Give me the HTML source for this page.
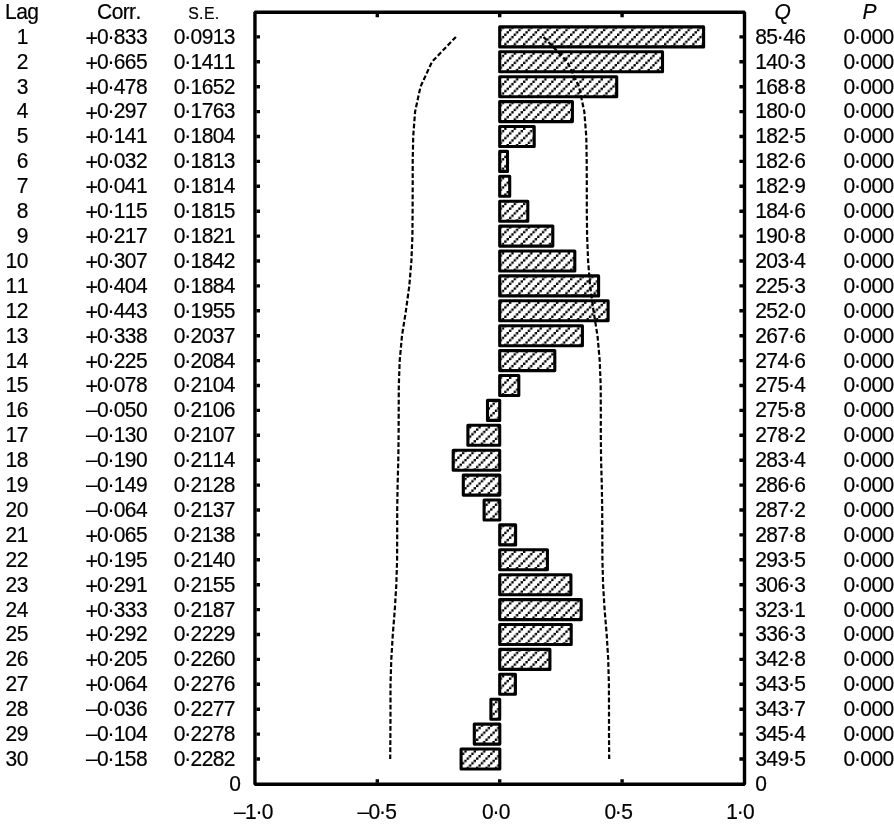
<!DOCTYPE html>
<html lang="en"><head><meta charset="utf-8"><title>Autocorrelation function</title>
<style>html,body{margin:0;padding:0;background:#fff}body{width:894px;height:824px;overflow:hidden}svg{display:block}text{font-kerning:none;letter-spacing:-.6px;font-family:"Liberation Sans",Arial,Helvetica,sans-serif;font-size:21px;fill:#000;stroke:#000;stroke-width:.2px}.i{font-style:italic}.sc{font-size:15.8px;letter-spacing:.4px}</style></head><body>
<svg width="894" height="824" viewBox="0 0 894 824">
<defs><pattern id="h" patternUnits="userSpaceOnUse" x="1.325" y="3.025" width="9.4" height="9.4">
<rect x="0" y="7.05" width="2.35" height="2.35"/>
<rect x="2.35" y="4.7" width="2.35" height="2.35"/>
<rect x="4.7" y="2.35" width="2.35" height="2.35"/>
<rect x="7.05" y="0" width="2.35" height="2.35"/>
</pattern></defs>
<rect width="894" height="824" fill="#fff"/>
<g transform="scale(1 1.08)">
<text x="5.1" y="17.5">Lag</text>
<text x="97.1" y="17.5">Corr.</text>
<text x="188.2" y="17.5" class="sc">S.E.</text>
<text x="774.4" y="17.5" class="i">Q</text>
<text x="862.6" y="17.5" class="i">P</text>
<g><text x="16.7" y="40.6">1</text><text><tspan x="85.5" y="42.4" font-size="21.4">+</tspan><tspan x="97.0" y="40.6" dx="0 -.6 -.1">0·833</tspan></text><text x="173.8" y="40.6" dx="0 -.6 -.1">0·0913</text><text x="755.3" y="40.6" dx="0 0 -.6 -.1">85·46</text><text x="843.6" y="40.6" dx="0 -.6 -.1">0·000</text></g>
<g><text x="16.7" y="63.6">2</text><text><tspan x="85.5" y="65.5" font-size="21.4">+</tspan><tspan x="97.0" y="63.6" dx="0 -.6 -.1">0·665</tspan></text><text x="173.8" y="63.6" dx="0 -.6 -.1">0·1411</text><text x="755.3" y="63.6" dx="0 0 0 -.6 -.1">140·3</text><text x="843.6" y="63.6" dx="0 -.6 -.1">0·000</text></g>
<g><text x="16.7" y="86.7">3</text><text><tspan x="85.5" y="88.5" font-size="21.4">+</tspan><tspan x="97.0" y="86.7" dx="0 -.6 -.1">0·478</tspan></text><text x="173.8" y="86.7" dx="0 -.6 -.1">0·1652</text><text x="755.3" y="86.7" dx="0 0 0 -.6 -.1">168·8</text><text x="843.6" y="86.7" dx="0 -.6 -.1">0·000</text></g>
<g><text x="16.7" y="109.7">4</text><text><tspan x="85.5" y="111.6" font-size="21.4">+</tspan><tspan x="97.0" y="109.7" dx="0 -.6 -.1">0·297</tspan></text><text x="173.8" y="109.7" dx="0 -.6 -.1">0·1763</text><text x="755.3" y="109.7" dx="0 0 0 -.6 -.1">180·0</text><text x="843.6" y="109.7" dx="0 -.6 -.1">0·000</text></g>
<g><text x="16.7" y="132.8">5</text><text><tspan x="85.5" y="134.6" font-size="21.4">+</tspan><tspan x="97.0" y="132.8" dx="0 -.6 -.1">0·141</tspan></text><text x="173.8" y="132.8" dx="0 -.6 -.1">0·1804</text><text x="755.3" y="132.8" dx="0 0 0 -.6 -.1">182·5</text><text x="843.6" y="132.8" dx="0 -.6 -.1">0·000</text></g>
<g><text x="16.7" y="155.8">6</text><text><tspan x="85.5" y="157.7" font-size="21.4">+</tspan><tspan x="97.0" y="155.8" dx="0 -.6 -.1">0·032</tspan></text><text x="173.8" y="155.8" dx="0 -.6 -.1">0·1813</text><text x="755.3" y="155.8" dx="0 0 0 -.6 -.1">182·6</text><text x="843.6" y="155.8" dx="0 -.6 -.1">0·000</text></g>
<g><text x="16.7" y="178.9">7</text><text><tspan x="85.5" y="180.8" font-size="21.4">+</tspan><tspan x="97.0" y="178.9" dx="0 -.6 -.1">0·041</tspan></text><text x="173.8" y="178.9" dx="0 -.6 -.1">0·1814</text><text x="755.3" y="178.9" dx="0 0 0 -.6 -.1">182·9</text><text x="843.6" y="178.9" dx="0 -.6 -.1">0·000</text></g>
<g><text x="16.7" y="202.0">8</text><text><tspan x="85.5" y="203.8" font-size="21.4">+</tspan><tspan x="97.0" y="202.0" dx="0 -.6 -.1">0·115</tspan></text><text x="173.8" y="202.0" dx="0 -.6 -.1">0·1815</text><text x="755.3" y="202.0" dx="0 0 0 -.6 -.1">184·6</text><text x="843.6" y="202.0" dx="0 -.6 -.1">0·000</text></g>
<g><text x="16.7" y="225.0">9</text><text><tspan x="85.5" y="226.9" font-size="21.4">+</tspan><tspan x="97.0" y="225.0" dx="0 -.6 -.1">0·217</tspan></text><text x="173.8" y="225.0" dx="0 -.6 -.1">0·1821</text><text x="755.3" y="225.0" dx="0 0 0 -.6 -.1">190·8</text><text x="843.6" y="225.0" dx="0 -.6 -.1">0·000</text></g>
<g><text x="5.6" y="248.1">10</text><text><tspan x="85.5" y="249.9" font-size="21.4">+</tspan><tspan x="97.0" y="248.1" dx="0 -.6 -.1">0·307</tspan></text><text x="173.8" y="248.1" dx="0 -.6 -.1">0·1842</text><text x="755.3" y="248.1" dx="0 0 0 -.6 -.1">203·4</text><text x="843.6" y="248.1" dx="0 -.6 -.1">0·000</text></g>
<g><text x="5.6" y="271.1">11</text><text><tspan x="85.5" y="273.0" font-size="21.4">+</tspan><tspan x="97.0" y="271.1" dx="0 -.6 -.1">0·404</tspan></text><text x="173.8" y="271.1" dx="0 -.6 -.1">0·1884</text><text x="755.3" y="271.1" dx="0 0 0 -.6 -.1">225·3</text><text x="843.6" y="271.1" dx="0 -.6 -.1">0·000</text></g>
<g><text x="5.6" y="294.2">12</text><text><tspan x="85.5" y="296.0" font-size="21.4">+</tspan><tspan x="97.0" y="294.2" dx="0 -.6 -.1">0·443</tspan></text><text x="173.8" y="294.2" dx="0 -.6 -.1">0·1955</text><text x="755.3" y="294.2" dx="0 0 0 -.6 -.1">252·0</text><text x="843.6" y="294.2" dx="0 -.6 -.1">0·000</text></g>
<g><text x="5.6" y="317.2">13</text><text><tspan x="85.5" y="319.1" font-size="21.4">+</tspan><tspan x="97.0" y="317.2" dx="0 -.6 -.1">0·338</tspan></text><text x="173.8" y="317.2" dx="0 -.6 -.1">0·2037</text><text x="755.3" y="317.2" dx="0 0 0 -.6 -.1">267·6</text><text x="843.6" y="317.2" dx="0 -.6 -.1">0·000</text></g>
<g><text x="5.6" y="340.3">14</text><text><tspan x="85.5" y="342.2" font-size="21.4">+</tspan><tspan x="97.0" y="340.3" dx="0 -.6 -.1">0·225</tspan></text><text x="173.8" y="340.3" dx="0 -.6 -.1">0·2084</text><text x="755.3" y="340.3" dx="0 0 0 -.6 -.1">274·6</text><text x="843.6" y="340.3" dx="0 -.6 -.1">0·000</text></g>
<g><text x="5.6" y="363.4">15</text><text><tspan x="85.5" y="365.2" font-size="21.4">+</tspan><tspan x="97.0" y="363.4" dx="0 -.6 -.1">0·078</tspan></text><text x="173.8" y="363.4" dx="0 -.6 -.1">0·2104</text><text x="755.3" y="363.4" dx="0 0 0 -.6 -.1">275·4</text><text x="843.6" y="363.4" dx="0 -.6 -.1">0·000</text></g>
<g><text x="5.6" y="386.4">16</text><text x="85.9" y="386.4" dx="0 0 -.6 -.1">–0·050</text><text x="173.8" y="386.4" dx="0 -.6 -.1">0·2106</text><text x="755.3" y="386.4" dx="0 0 0 -.6 -.1">275·8</text><text x="843.6" y="386.4" dx="0 -.6 -.1">0·000</text></g>
<g><text x="5.6" y="409.5">17</text><text x="85.9" y="409.5" dx="0 0 -.6 -.1">–0·130</text><text x="173.8" y="409.5" dx="0 -.6 -.1">0·2107</text><text x="755.3" y="409.5" dx="0 0 0 -.6 -.1">278·2</text><text x="843.6" y="409.5" dx="0 -.6 -.1">0·000</text></g>
<g><text x="5.6" y="432.5">18</text><text x="85.9" y="432.5" dx="0 0 -.6 -.1">–0·190</text><text x="173.8" y="432.5" dx="0 -.6 -.1">0·2114</text><text x="755.3" y="432.5" dx="0 0 0 -.6 -.1">283·4</text><text x="843.6" y="432.5" dx="0 -.6 -.1">0·000</text></g>
<g><text x="5.6" y="455.6">19</text><text x="85.9" y="455.6" dx="0 0 -.6 -.1">–0·149</text><text x="173.8" y="455.6" dx="0 -.6 -.1">0·2128</text><text x="755.3" y="455.6" dx="0 0 0 -.6 -.1">286·6</text><text x="843.6" y="455.6" dx="0 -.6 -.1">0·000</text></g>
<g><text x="5.6" y="478.6">20</text><text x="85.9" y="478.6" dx="0 0 -.6 -.1">–0·064</text><text x="173.8" y="478.6" dx="0 -.6 -.1">0·2137</text><text x="755.3" y="478.6" dx="0 0 0 -.6 -.1">287·2</text><text x="843.6" y="478.6" dx="0 -.6 -.1">0·000</text></g>
<g><text x="5.6" y="501.7">21</text><text><tspan x="85.5" y="503.6" font-size="21.4">+</tspan><tspan x="97.0" y="501.7" dx="0 -.6 -.1">0·065</tspan></text><text x="173.8" y="501.7" dx="0 -.6 -.1">0·2138</text><text x="755.3" y="501.7" dx="0 0 0 -.6 -.1">287·8</text><text x="843.6" y="501.7" dx="0 -.6 -.1">0·000</text></g>
<g><text x="5.6" y="524.8">22</text><text><tspan x="85.5" y="526.6" font-size="21.4">+</tspan><tspan x="97.0" y="524.8" dx="0 -.6 -.1">0·195</tspan></text><text x="173.8" y="524.8" dx="0 -.6 -.1">0·2140</text><text x="755.3" y="524.8" dx="0 0 0 -.6 -.1">293·5</text><text x="843.6" y="524.8" dx="0 -.6 -.1">0·000</text></g>
<g><text x="5.6" y="547.8">23</text><text><tspan x="85.5" y="549.7" font-size="21.4">+</tspan><tspan x="97.0" y="547.8" dx="0 -.6 -.1">0·291</tspan></text><text x="173.8" y="547.8" dx="0 -.6 -.1">0·2155</text><text x="755.3" y="547.8" dx="0 0 0 -.6 -.1">306·3</text><text x="843.6" y="547.8" dx="0 -.6 -.1">0·000</text></g>
<g><text x="5.6" y="570.9">24</text><text><tspan x="85.5" y="572.7" font-size="21.4">+</tspan><tspan x="97.0" y="570.9" dx="0 -.6 -.1">0·333</tspan></text><text x="173.8" y="570.9" dx="0 -.6 -.1">0·2187</text><text x="755.3" y="570.9" dx="0 0 0 -.6 -.1">323·1</text><text x="843.6" y="570.9" dx="0 -.6 -.1">0·000</text></g>
<g><text x="5.6" y="593.9">25</text><text><tspan x="85.5" y="595.8" font-size="21.4">+</tspan><tspan x="97.0" y="593.9" dx="0 -.6 -.1">0·292</tspan></text><text x="173.8" y="593.9" dx="0 -.6 -.1">0·2229</text><text x="755.3" y="593.9" dx="0 0 0 -.6 -.1">336·3</text><text x="843.6" y="593.9" dx="0 -.6 -.1">0·000</text></g>
<g><text x="5.6" y="617.0">26</text><text><tspan x="85.5" y="618.8" font-size="21.4">+</tspan><tspan x="97.0" y="617.0" dx="0 -.6 -.1">0·205</tspan></text><text x="173.8" y="617.0" dx="0 -.6 -.1">0·2260</text><text x="755.3" y="617.0" dx="0 0 0 -.6 -.1">342·8</text><text x="843.6" y="617.0" dx="0 -.6 -.1">0·000</text></g>
<g><text x="5.6" y="640.0">27</text><text><tspan x="85.5" y="641.9" font-size="21.4">+</tspan><tspan x="97.0" y="640.0" dx="0 -.6 -.1">0·064</tspan></text><text x="173.8" y="640.0" dx="0 -.6 -.1">0·2276</text><text x="755.3" y="640.0" dx="0 0 0 -.6 -.1">343·5</text><text x="843.6" y="640.0" dx="0 -.6 -.1">0·000</text></g>
<g><text x="5.6" y="663.1">28</text><text x="85.9" y="663.1" dx="0 0 -.6 -.1">–0·036</text><text x="173.8" y="663.1" dx="0 -.6 -.1">0·2277</text><text x="755.3" y="663.1" dx="0 0 0 -.6 -.1">343·7</text><text x="843.6" y="663.1" dx="0 -.6 -.1">0·000</text></g>
<g><text x="5.6" y="686.2">29</text><text x="85.9" y="686.2" dx="0 0 -.6 -.1">–0·104</text><text x="173.8" y="686.2" dx="0 -.6 -.1">0·2278</text><text x="755.3" y="686.2" dx="0 0 0 -.6 -.1">345·4</text><text x="843.6" y="686.2" dx="0 -.6 -.1">0·000</text></g>
<g><text x="5.6" y="709.2">30</text><text x="85.9" y="709.2" dx="0 0 -.6 -.1">–0·158</text><text x="173.8" y="709.2" dx="0 -.6 -.1">0·2282</text><text x="755.3" y="709.2" dx="0 0 0 -.6 -.1">349·5</text><text x="843.6" y="709.2" dx="0 -.6 -.1">0·000</text></g>
<text x="229.2" y="732.6">0</text>
<text x="755.3" y="732.6">0</text>
<text x="234.0" y="758.0" dx="0 0 -.6 -.1">–1·0</text>
<text x="357.5" y="758.0" dx="0 0 -.6 -.1">–0·5</text>
<text x="482.0" y="758.0" dx="0 -.6 -.1">0·0</text>
<text x="604.4" y="758.0" dx="0 -.6 -.1">0·5</text>
<text x="726.2" y="758.0" dx="0 -.6 -.1">1·0</text>
</g>
<g fill="url(#h)" stroke="#000" stroke-width="3.1" stroke-linejoin="round">
<rect x="499.7" y="26.9" width="203.9" height="20.0"/>
<rect x="499.7" y="51.8" width="162.8" height="20.0"/>
<rect x="499.7" y="76.7" width="117.0" height="20.0"/>
<rect x="499.7" y="101.6" width="72.7" height="20.0"/>
<rect x="499.7" y="126.5" width="34.5" height="20.0"/>
<rect x="499.7" y="151.4" width="7.8" height="20.0"/>
<rect x="499.7" y="176.3" width="10.0" height="20.0"/>
<rect x="499.7" y="201.2" width="28.1" height="20.0"/>
<rect x="499.7" y="226.1" width="53.1" height="20.0"/>
<rect x="499.7" y="251.0" width="75.1" height="20.0"/>
<rect x="499.7" y="275.9" width="98.9" height="20.0"/>
<rect x="499.7" y="300.8" width="108.4" height="20.0"/>
<rect x="499.7" y="325.7" width="82.7" height="20.0"/>
<rect x="499.7" y="350.6" width="55.1" height="20.0"/>
<rect x="499.7" y="375.5" width="19.1" height="20.0"/>
<rect x="487.5" y="400.4" width="12.2" height="20.0"/>
<rect x="467.9" y="425.3" width="31.8" height="20.0"/>
<rect x="453.2" y="450.2" width="46.5" height="20.0"/>
<rect x="463.3" y="475.1" width="36.5" height="20.0"/>
<rect x="484.1" y="500.0" width="15.7" height="20.0"/>
<rect x="499.7" y="524.9" width="15.9" height="20.0"/>
<rect x="499.7" y="549.8" width="47.7" height="20.0"/>
<rect x="499.7" y="574.7" width="71.2" height="20.0"/>
<rect x="499.7" y="599.6" width="81.5" height="20.0"/>
<rect x="499.7" y="624.5" width="71.5" height="20.0"/>
<rect x="499.7" y="649.4" width="50.2" height="20.0"/>
<rect x="499.7" y="674.3" width="15.7" height="20.0"/>
<rect x="490.9" y="699.2" width="8.8" height="20.0"/>
<rect x="474.3" y="724.1" width="25.5" height="20.0"/>
<rect x="461.1" y="749.0" width="38.7" height="20.0"/>
</g>
<polyline points="455.9,36.9 432.0,61.8 420.5,86.7 415.1,111.6 413.2,136.5 412.7,161.4 412.7,186.3 412.6,211.2 412.4,236.1 411.4,261.0 409.3,285.9 405.9,310.8 402.0,335.7 399.7,360.6 398.8,385.5 398.7,410.4 398.6,435.3 398.3,460.2 397.6,485.1 397.2,510.0 397.2,534.9 397.1,559.8 396.3,584.7 394.8,609.6 392.8,634.5 391.3,659.4 390.5,684.3 390.5,709.2 390.4,734.1 390.2,759.0" fill="none" stroke="#000" stroke-width="2.2" stroke-dasharray="4.8 2.3"/>
<polyline points="543.5,36.9 567.4,61.8 579.0,86.7 584.3,111.6 586.3,136.5 586.7,161.4 586.8,186.3 586.8,211.2 587.1,236.1 588.1,261.0 590.1,285.9 593.5,310.8 597.5,335.7 599.7,360.6 600.7,385.5 600.8,410.4 600.8,435.3 601.1,460.2 601.8,485.1 602.2,510.0 602.3,534.9 602.4,559.8 603.1,584.7 604.6,609.6 606.7,634.5 608.2,659.4 608.9,684.3 609.0,709.2 609.0,734.1 609.2,759.0" fill="none" stroke="#000" stroke-width="2.2" stroke-dasharray="4.8 2.3"/>
<g fill="none" stroke="#000">
<rect x="254.95" y="12.2" width="489.55" height="772.1" stroke-width="3.4" stroke-linejoin="bevel"/>
<path d="M256.4 36.9h3.6M743.0 36.9h-3.6M256.4 61.8h3.6M743.0 61.8h-3.6M256.4 86.7h3.6M743.0 86.7h-3.6M256.4 111.6h3.6M743.0 111.6h-3.6M256.4 136.5h3.6M743.0 136.5h-3.6M256.4 161.4h3.6M743.0 161.4h-3.6M256.4 186.3h3.6M743.0 186.3h-3.6M256.4 211.2h3.6M743.0 211.2h-3.6M256.4 236.1h3.6M743.0 236.1h-3.6M256.4 261.0h3.6M743.0 261.0h-3.6M256.4 285.9h3.6M743.0 285.9h-3.6M256.4 310.8h3.6M743.0 310.8h-3.6M256.4 335.7h3.6M743.0 335.7h-3.6M256.4 360.6h3.6M743.0 360.6h-3.6M256.4 385.5h3.6M743.0 385.5h-3.6M256.4 410.4h3.6M743.0 410.4h-3.6M256.4 435.3h3.6M743.0 435.3h-3.6M256.4 460.2h3.6M743.0 460.2h-3.6M256.4 485.1h3.6M743.0 485.1h-3.6M256.4 510.0h3.6M743.0 510.0h-3.6M256.4 534.9h3.6M743.0 534.9h-3.6M256.4 559.8h3.6M743.0 559.8h-3.6M256.4 584.7h3.6M743.0 584.7h-3.6M256.4 609.6h3.6M743.0 609.6h-3.6M256.4 634.5h3.6M743.0 634.5h-3.6M256.4 659.4h3.6M743.0 659.4h-3.6M256.4 684.3h3.6M743.0 684.3h-3.6M256.4 709.2h3.6M743.0 709.2h-3.6M256.4 734.1h3.6M743.0 734.1h-3.6M256.4 759.0h3.6M743.0 759.0h-3.6M377.3 13.7v3.6M377.3 782.8v-3.6M499.7 13.7v3.6M499.7 782.8v-3.6M622.1 13.7v3.6M622.1 782.8v-3.6" stroke-width="3.4"/>
</g>
</svg></body></html>
